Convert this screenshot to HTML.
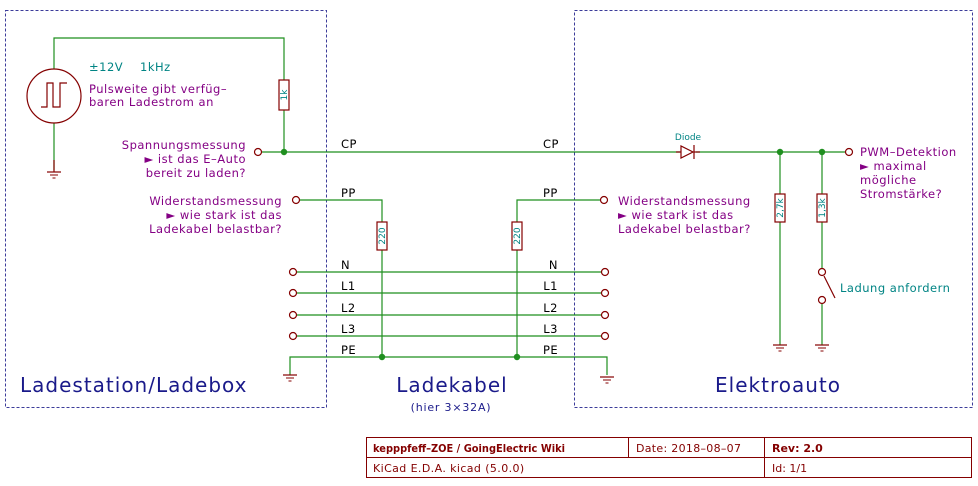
<!DOCTYPE html>
<html><head><meta charset="utf-8"><style>
html,body{margin:0;padding:0;background:#fff;}
svg{display:block;}
text{font-family:"DejaVu Sans","Liberation Sans",sans-serif;}
</style></head><body>
<svg width="978" height="486" viewBox="0 0 978 486" xmlns="http://www.w3.org/2000/svg">
<defs>
<g id="gnd"><line x1="-7" y1="0" x2="7" y2="0" stroke="#840000" stroke-width="1.2"/><line x1="-4" y1="3" x2="4" y2="3" stroke="#840000" stroke-width="1"/><line x1="-1.5" y1="6" x2="1.5" y2="6" stroke="#840000" stroke-width="1"/></g>
</defs>
<g fill="none" stroke="#3c3c9a" stroke-width="1" stroke-dasharray="3,2">
<rect x="5.5" y="10.5" width="321" height="397"/>
<rect x="574.5" y="10.5" width="398" height="397"/>
</g>
<g stroke="#1f8f1f" stroke-width="1.2" fill="none">
<polyline points="54,69 54,38 284,38 284,80"/>
<polyline points="284,110 284,152"/>
<line x1="54" y1="123" x2="54" y2="170"/>
<line x1="262" y1="152" x2="680" y2="152"/>
<line x1="696" y1="152" x2="845" y2="152"/>
<line x1="780" y1="152" x2="780" y2="194"/>
<line x1="780" y1="222" x2="780" y2="345"/>
<line x1="822" y1="152" x2="822" y2="194"/>
<line x1="822" y1="222" x2="822" y2="268"/>
<line x1="822" y1="304" x2="822" y2="345"/>
<polyline points="300,200 382,200 382,222"/>
<line x1="382" y1="250" x2="382" y2="357"/>
<polyline points="600,200 517,200 517,222"/>
<line x1="517" y1="250" x2="517" y2="357"/>
<line x1="297" y1="272" x2="601" y2="272"/>
<line x1="297" y1="293" x2="601" y2="293"/>
<line x1="297" y1="315" x2="601" y2="315"/>
<line x1="297" y1="336" x2="601" y2="336"/>
<polyline points="290,375 290,357 607,357 607,375"/>
</g>
<g fill="#1f8f1f">
<circle cx="284" cy="152" r="3.2"/><circle cx="780" cy="152" r="3.2"/><circle cx="822" cy="152" r="3.2"/>
<circle cx="382" cy="357" r="3.2"/><circle cx="517" cy="357" r="3.2"/>
</g>
<g stroke="#840000" stroke-width="1.2" fill="none">
<circle cx="54" cy="96" r="27"/>
<polyline points="41,107 47,107 47,83 53,83 53,107 60,107 60,83 67,83"/>
<rect x="279" y="80" width="10" height="30"/>
<rect x="377" y="222" width="10" height="28"/>
<rect x="512" y="222" width="10" height="28"/>
<rect x="775" y="194" width="10" height="28"/>
<rect x="817" y="194" width="10" height="28"/>
<polygon points="681,146 681,158 693,152"/><line x1="694" y1="145" x2="694" y2="159"/>
<line x1="676" y1="152" x2="681" y2="152"/><line x1="694" y1="152" x2="700" y2="152"/>
<circle cx="258" cy="152" r="3.5"/><circle cx="849" cy="152" r="3.5"/>
<circle cx="296" cy="200" r="3.5"/><circle cx="604" cy="200" r="3.5"/>
<circle cx="293" cy="272" r="3.5"/><circle cx="293" cy="293" r="3.5"/><circle cx="293" cy="315" r="3.5"/><circle cx="293" cy="336" r="3.5"/>
<circle cx="605" cy="272" r="3.5"/><circle cx="605" cy="293" r="3.5"/><circle cx="605" cy="315" r="3.5"/><circle cx="605" cy="336" r="3.5"/>
<circle cx="822" cy="272" r="3.5"/><circle cx="822" cy="300" r="3.5"/>
<line x1="824" y1="276" x2="835" y2="298"/>
<line x1="54" y1="160" x2="54" y2="172"/>
</g>
<use href="#gnd" x="54" y="172"/>
<use href="#gnd" x="290" y="375"/>
<use href="#gnd" x="607" y="377"/>
<use href="#gnd" x="780" y="345"/>
<use href="#gnd" x="822" y="345"/>
<g fill="#008484" font-size="9">
<text transform="translate(287,95) rotate(-90)" text-anchor="middle">1k</text>
<text transform="translate(385,236) rotate(-90)" text-anchor="middle">220</text>
<text transform="translate(520,236) rotate(-90)" text-anchor="middle">220</text>
<text transform="translate(783,208) rotate(-90)" text-anchor="middle">2,7k</text>
<text transform="translate(825,208) rotate(-90)" text-anchor="middle">1,3k</text>
<text x="688" y="140" text-anchor="middle" font-size="9">Diode</text>
</g>
<g fill="#008484" font-size="11.5" letter-spacing="0.5">
<text x="89" y="71">±12V</text><text x="140" y="71">1kHz</text>
<text x="840" y="292">Ladung anfordern</text>
</g>
<g fill="#840084" font-size="11.5" letter-spacing="0.5">
<text x="89" y="93">Pulsweite gibt verfüg–</text>
<text x="89" y="106">baren Ladestrom an</text>
<g text-anchor="end">
<text x="246" y="149">Spannungsmessung</text>
<text x="246" y="163">► ist das E–Auto</text>
<text x="246" y="177">bereit zu laden?</text>
<text x="282" y="205">Widerstandsmessung</text>
<text x="282" y="219">► wie stark ist das</text>
<text x="282" y="233">Ladekabel belastbar?</text>
</g>
<text x="618" y="205">Widerstandsmessung</text>
<text x="618" y="219">► wie stark ist das</text>
<text x="618" y="233">Ladekabel belastbar?</text>
<text x="860" y="156">PWM–Detektion</text>
<text x="860" y="170">► maximal</text>
<text x="860" y="184">mögliche</text>
<text x="860" y="198">Stromstärke?</text>
</g>
<g fill="#000" font-size="11.5" letter-spacing="0.5">
<text x="341" y="148">CP</text><text x="543" y="148">CP</text>
<text x="341" y="197">PP</text><text x="543" y="197">PP</text>
<text x="341" y="269">N</text><text x="558" y="269" text-anchor="end">N</text>
<text x="341" y="290">L1</text><text x="558" y="290" text-anchor="end">L1</text>
<text x="341" y="312">L2</text><text x="558" y="312" text-anchor="end">L2</text>
<text x="341" y="333">L3</text><text x="558" y="333" text-anchor="end">L3</text>
<text x="341" y="354">PE</text><text x="543" y="354">PE</text>
</g>
<g fill="#1a1a8a" font-size="20" letter-spacing="1">
<text x="20" y="392">Ladestation/Ladebox</text>
<text x="452" y="392" text-anchor="middle">Ladekabel</text>
<text x="778" y="392" text-anchor="middle">Elektroauto</text>
</g>
<text x="451" y="411" text-anchor="middle" fill="#1a1a8a" font-size="11" letter-spacing="0.8">(hier 3×32A)</text>
<g stroke="#840000" stroke-width="1" fill="none">
<rect x="366.5" y="437.5" width="605" height="40"/>
<line x1="366" y1="457.5" x2="972" y2="457.5"/>
<line x1="628.5" y1="437" x2="628.5" y2="457"/>
<line x1="764.5" y1="437" x2="764.5" y2="478"/>
</g>
<g fill="#840000" font-size="11">
<text x="373" y="452" font-weight="bold" font-size="10.5" textLength="192" lengthAdjust="spacingAndGlyphs">kepppfeff–ZOE / GoingElectric Wiki</text>
<text x="636" y="452" letter-spacing="0.3">Date: 2018–08–07</text>
<text x="772" y="452" font-weight="bold">Rev: 2.0</text>
<text x="373" y="472" letter-spacing="0.4">KiCad E.D.A.  kicad (5.0.0)</text>
<text x="772" y="472">Id: 1/1</text>
</g>
</svg>
</body></html>
